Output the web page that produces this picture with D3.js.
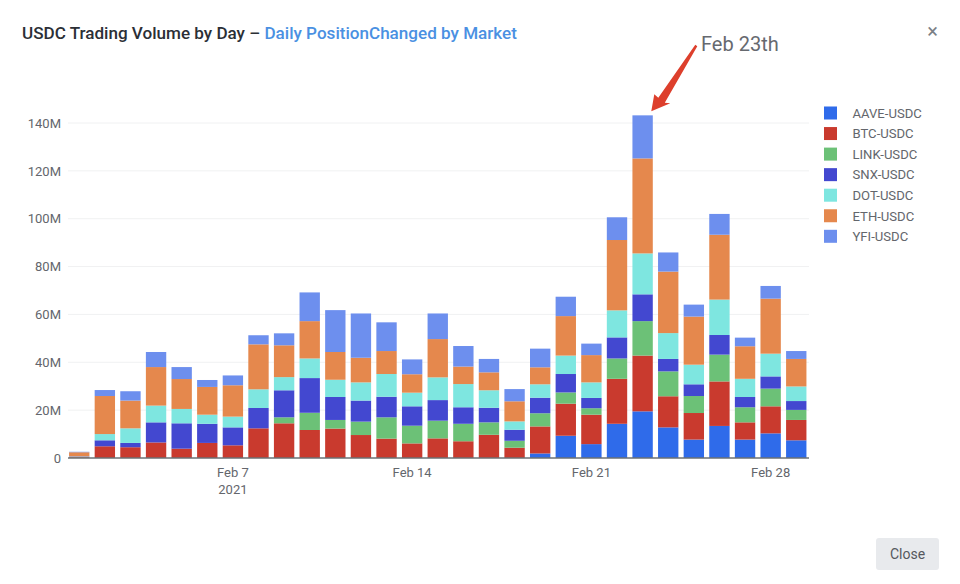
<!DOCTYPE html>
<html><head><meta charset="utf-8">
<script src="https://cdn.jsdelivr.net/npm/d3@7"></script>
<style>html,body{margin:0;padding:0;background:#fff}svg{display:block;font-family:Roboto,sans-serif}</style>
</head><body><svg id="c" width="960" height="584"></svg>
<script>
const days = ["02-01","02-02","02-03","02-04","02-05","02-06","02-07","02-08","02-09","02-10","02-11","02-12","02-13","02-14","02-15","02-16","02-17","02-18","02-19","02-20","02-21","02-22","02-23","02-24","02-25","02-26","02-27","02-28","03-01"];
const seriesNames = ["AAVE-USDC","BTC-USDC","LINK-USDC","SNX-USDC","DOT-USDC","ETH-USDC","YFI-USDC"];
const seriesColors = ["#2f6bea","#c93a2e","#6cc177","#4348d0","#7ee6e0","#e5884d","#6d8fee"];
const aave = [0,0,0,0,0,0,0,0,0,0,0,0,0,0,0,0,0,0,1.9,9.3,5.8,14.3,19.5,12.8,7.7,13.4,7.7,10.3,7.4];
const btc  = [.3,4.9,4.5,6.5,3.9,6.3,5.3,12.4,14.5,11.7,12.3,9.6,8.1,6.1,8.2,7.0,9.7,4.3,11.3,13.4,12.3,18.8,23.3,13.0,11.1,18.6,7.2,11.3,8.5];
const link = [.1,0,0,0,0,0,0,0,2.5,7.2,3.6,5.6,8.9,7.4,7.4,7.3,5.2,2.9,5.5,4.7,2.7,8.5,14.4,10.4,7.1,11.2,6.3,7.4,4.2];
const snx  = [.2,2.5,1.8,8.4,10.6,8.0,7.5,8.5,11.3,14.5,9.6,8.8,8.6,8.1,8.6,6.9,6.1,4.6,6.5,7.7,4.3,8.8,11.2,5.2,4.9,8.2,4.3,5.1,3.7];
const dot  = [.1,2.6,6.1,7.0,6.0,3.8,4.5,7.8,5.5,8.2,7.2,7.6,9.5,5.7,9.5,9.7,7.3,3.5,5.6,7.7,6.5,11.3,17.1,10.8,8.2,14.8,7.6,9.5,6.1];
const eth  = [1.7,15.9,11.6,16.1,12.5,11.6,13.1,18.8,13.3,15.6,11.6,10.3,9.6,7.7,16.0,7.3,7.5,8.4,7.1,16.5,11.4,29.4,39.7,25.7,20.1,27.1,13.6,23.0,11.5];
const yfi  = [.2,2.5,3.9,6.3,5.0,2.9,4.1,3.8,5.0,12.0,17.5,18.5,12.0,6.2,10.7,8.6,5.6,5.1,7.8,8.1,4.8,9.5,18.0,8.0,5.0,8.7,3.6,5.3,3.3];
const yTicks = [0,20,40,60,80,100,120,140];
const xTicks = ["02-07","02-14","02-21","02-28"];
const xTickLabels = ["Feb 7","Feb 14","Feb 21","Feb 28"];
const yearLabel = "2021";
const peakDay = "02-23";
const annotation = "Feb 23th";

const seriesValues = [aave,btc,link,snx,dot,eth,yfi];
const table = days.map((d,i)=>{const r={day:d};seriesNames.forEach((n,k)=>r[n]=seriesValues[k][i]);return r;});
const stacked = d3.stack().keys(seriesNames)(table);

const svg = d3.select("#c");
const x = d3.scaleBand().domain(days).range([66.5,809]).paddingInner(0.205).paddingOuter(0.1);
const y = d3.scaleLinear().domain([0,140]).range([458,123]);

// title
const t = svg.append("text").attr("x",22).attr("y",38.5).attr("font-size",17.08).attr("font-weight",500).attr("fill","#2b2f36");
t.append("tspan").text("USDC Trading Volume by Day – ");
t.append("tspan").attr("fill","#4a90e2").text("Daily PositionChanged by Market");

// close x
svg.append("text").attr("x",932.5).attr("y",38).attr("text-anchor","middle").attr("font-size",20).attr("fill","#7b7f86").text("×");

// grid
svg.append("g").selectAll("line").data(yTicks.filter(v=>v>0)).join("line")
  .attr("x1",68).attr("x2",809).attr("y1",d=>y(d)).attr("y2",d=>y(d)).attr("stroke","#f0f1f2").attr("stroke-width",1);

// y axis
const yAxis = svg.append("g").attr("transform","translate(68,0)")
  .call(d3.axisLeft(y).tickValues(yTicks).tickSize(0).tickPadding(7).tickFormat(d=>d===0?"0":d+"M"));
yAxis.select(".domain").remove();
yAxis.selectAll("text").attr("font-size",13).attr("fill","#63666c").attr("font-family","Roboto,sans-serif");

// bars
svg.append("g").selectAll("g").data(stacked).join("g").attr("fill",(d,i)=>seriesColors[i])
  .selectAll("rect").data(d=>d).join("rect")
  .attr("x",d=>x(d.data.day)).attr("width",x.bandwidth())
  .attr("y",d=>y(d[1])).attr("height",d=>y(d[0])-y(d[1]));

// x axis
const xAxis = svg.append("g").attr("transform","translate(0,458)")
  .call(d3.axisBottom(x).tickValues(xTicks).tickSize(0).tickPadding(10).tickFormat((d,i)=>xTickLabels[i]));
xAxis.select(".domain").attr("stroke","#6b7075").attr("stroke-width",1.5).attr("d","M68,0H809");
xAxis.selectAll("text").attr("font-size",13).attr("fill","#63666c").attr("font-family","Roboto,sans-serif");
svg.append("text").attr("x",x(xTicks[0])+x.bandwidth()/2).attr("y",493.5).attr("text-anchor","middle")
  .attr("font-size",13).attr("fill","#63666c").text(yearLabel);

// legend
const lg = svg.append("g").selectAll("g").data(seriesNames).join("g")
  .attr("transform",(d,i)=>`translate(824,${106.5+i*20.55})`);
lg.append("rect").attr("width",13).attr("height",13).attr("fill",(d,i)=>seriesColors[i]);
lg.append("text").attr("x",28.5).attr("y",11.3).attr("font-size",13.1).attr("fill","#63666c").text(d=>d);

// annotation
const total = d3.sum(seriesValues,s=>s[days.indexOf(peakDay)]);
const tipX = x(peakDay)+x.bandwidth()-1.5, tipY = y(total)-4;
svg.append("path").attr("fill","#dd3f2c")
  .attr("d",d3.line()([[tipX,tipY],[tipX+3,tipY-17],[tipX+7,tipY-13.5],[tipX+44,tipY-66.5],[tipX+46,tipY-65],[tipX+13.5,tipY-8.5],[tipX+19,tipY-8]])+"Z");
svg.append("text").attr("x",701).attr("y",51).attr("font-size",20).attr("fill","#66696f").text(annotation);

// close button
svg.append("rect").attr("x",876).attr("y",538).attr("width",63).attr("height",32).attr("rx",3).attr("fill","#e8eaed");
svg.append("text").attr("x",907.5).attr("y",559).attr("text-anchor","middle").attr("font-size",14).attr("fill","#55585e").text("Close");
</script></body></html>
